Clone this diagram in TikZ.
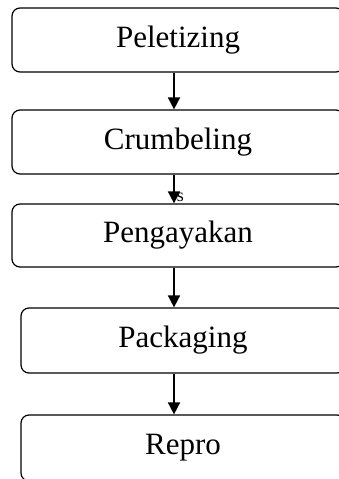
\documentclass[tikz,border=0pt]{standalone}
\usepackage{fontspec}
\setmainfont{Liberation Serif}
\usetikzlibrary{arrows.meta}

\begin{document}
\begin{tikzpicture}
[x=1pt,y=-1pt]
\tikzstyle{every node}=[font=\fontsize{31}{37}\selectfont]
\tikzstyle{stage}=[draw,rounded corners=8pt,line width=1.2pt,minimum width=332pt,minimum height=64pt,inner sep=0pt]
\tikzstyle{flow}=[line width=1.6pt,-{Triangle[width=12pt,length=12pt]}]
\useasboundingbox (0,0) rectangle (339,479);
\clip (0,0) rectangle (339,479);
\node[stage] (peletizing) at (178,40) {Peletizing};
\node[stage] (crumbeling) at (178,142) {Crumbeling};
\node[stage,minimum height=63pt] (pengayakan) at (178,235.5) {Pengayakan};
\node[stage,minimum width=324pt,minimum height=65pt] (packaging) at (183,340.5) {Packaging};
\node[stage,minimum width=324pt,minimum height=66pt] (repro) at (183,448) {Repro};
\coordinate (axis) at (174,0);
\draw[flow] (peletizing.south -| axis) -- (crumbeling.north -| axis);
\draw[flow] (crumbeling.south -| axis) -- node[pos=0.78,right,inner sep=2pt,font=\fontsize{18}{20}\selectfont] (s) {s} (pengayakan.north -| axis);
\draw[flow] (pengayakan.south -| axis) -- (packaging.north -| axis);
\draw[flow] (packaging.south -| axis) -- (repro.north -| axis);
\end{tikzpicture}
\end{document}
